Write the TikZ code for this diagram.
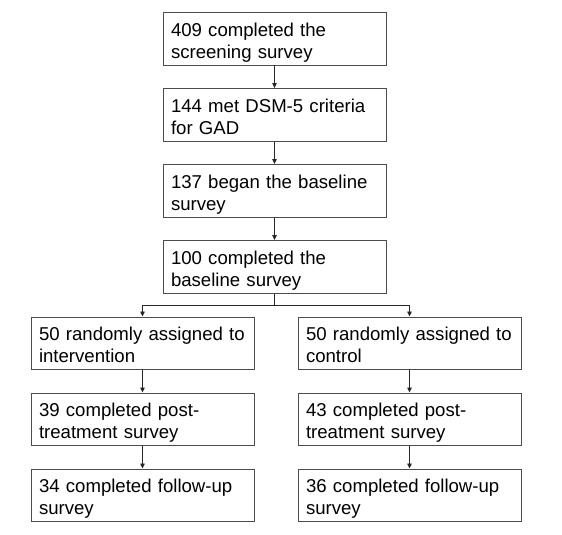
\documentclass[tikz,border=0pt]{standalone}
\usepackage{fontspec}
\setmainfont{Liberation Sans}
\usetikzlibrary{positioning,arrows.meta}

\tikzset{
    stagebox/.style={draw=black!70,line width=0.8pt,fill=white,align=left,
        text width=207pt,inner xsep=8pt,inner ysep=0pt,
        text height=23.8pt,text depth=28.9pt,
        font=\fontsize{18.6}{22}\selectfont},
    arr/.style={draw=black!85,line width=0.8pt,-{Triangle[length=5pt,width=4.5pt]}}
}

\begin{document}
\begin{tikzpicture}

        % Background
        \useasboundingbox (0,0) rectangle (562pt,-535pt);
        \fill[white] (0,0) rectangle (562pt,-535pt);

        % Main column
        \node[stagebox,anchor=north] (screen) at (274.5pt,-12pt) {409 completed the\\screening survey};
        \node[stagebox,below=22.5pt of screen] (dsm) {144 met DSM-5 criteria\\for GAD};
        \node[stagebox,below=22.5pt of dsm] (began) {137 began the baseline\\survey};
        \node[stagebox,below=22.5pt of began] (base) {100 completed the\\baseline survey};

        % Two arms
        \node[stagebox,below=23pt of base,xshift=-132pt] (int) {50 randomly assigned to\\intervention};
        \node[stagebox,below=23pt of base,xshift=135pt] (ctrl) {50 randomly assigned to\\control};
        \node[stagebox,below=22.5pt of int] (intpost) {39 completed post-\\treatment survey};
        \node[stagebox,below=22.5pt of ctrl] (ctrlpost) {43 completed post-\\treatment survey};
        \node[stagebox,below=22.5pt of intpost] (intfollow) {34 completed follow-up\\survey};
        \node[stagebox,below=22.5pt of ctrlpost] (ctrlfollow) {36 completed follow-up\\survey};

        % Arrows
        \foreach \from/\to in {screen/dsm,dsm/began,began/base,int/intpost,ctrl/ctrlpost,intpost/intfollow,ctrlpost/ctrlfollow} {
            \draw[arr] (\from) -- (\to);
        }
        \coordinate (split) at ([yshift=-12pt]base.south);
        \draw[draw=black!85,line width=0.8pt] (base.south) -- (split);
        \draw[arr] (split) -| (int.north);
        \draw[arr] (split) -| (ctrl.north);

    \end{tikzpicture}
\end{document}
